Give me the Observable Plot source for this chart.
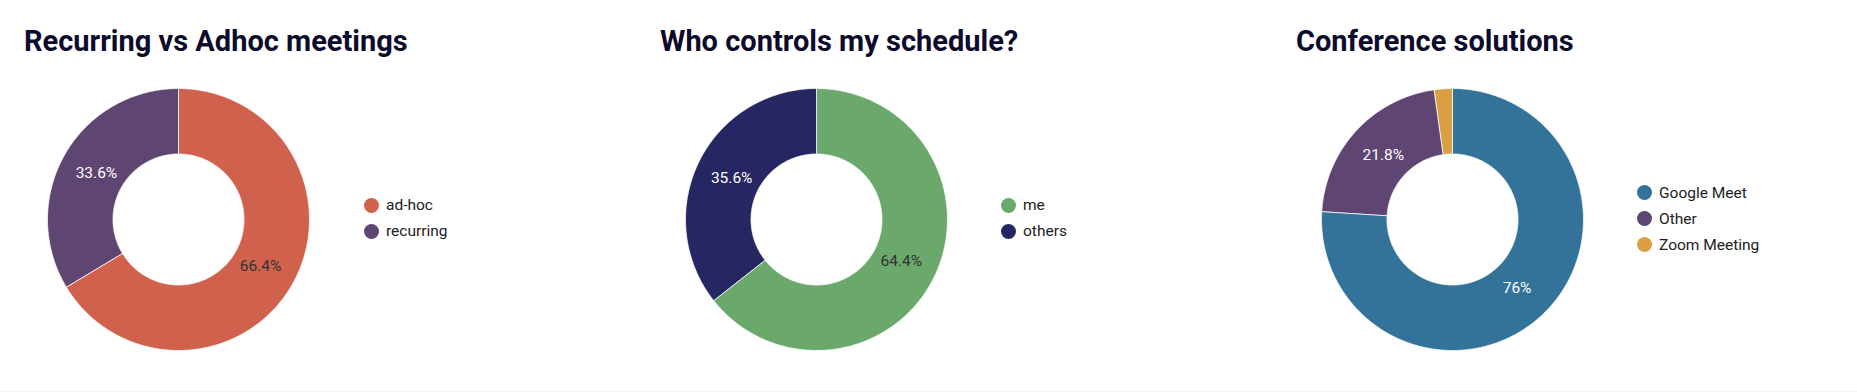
<!DOCTYPE html>
<html>
<head>
<meta charset="utf-8">
<script src="https://cdn.jsdelivr.net/npm/d3@7"></script>
<script src="https://cdn.jsdelivr.net/npm/@observablehq/plot@0.6"></script>
<style>
  html, body { margin: 0; padding: 0; background: #fff; }
  #page { position: relative; width: 1857px; height: 391px; border-bottom: 1px solid #f0f0f0; overflow: hidden; font-family: Roboto, "Noto Sans", sans-serif; }
  .title { position: absolute; font-size: 29px; font-weight: 700; color: #0c0b2c; line-height: 29px; white-space: nowrap; }
  .chart { position: absolute; }
  .legend { position: absolute; font-size: 15.5px; color: #222; }
  .item { position: absolute; display: flex; align-items: center; white-space: nowrap; height: 20px; }
  .sw { width: 15px; height: 15px; border-radius: 50%; margin-right: 7px; flex: none; }
</style>
</head>
<body>
<div id="page"></div>
<script>
// ---- data ----
const titles = ["Recurring vs Adhoc meetings", "Who controls my schedule?", "Conference solutions"];

const meetingTypes = ["ad-hoc", "recurring"];
const meetingShares = [66.4, 33.6];
const meetingColors = ["#cf614d", "#5f4572"];
const meetingLabelInk = ["#333333", "#ffffff"];

const controlTypes = ["me", "others"];
const controlShares = [64.4, 35.6];
const controlColors = ["#6aa86b", "#262762"];
const controlLabelInk = ["#333333", "#ffffff"];

const confTypes = ["Google Meet", "Other", "Zoom Meeting"];
const confShares = [76, 21.8, 2.2];
const confLabels = ["76%", "21.8%", ""];
const confColors = ["#337399", "#5f4572", "#d99f42"];
const confLabelInk = ["#ffffff", "#ffffff", "#ffffff"];

// ---- layout (pixels on page) ----
const layouts = [
  {titleX: 24, cx: 178, cy: 219, legX: 364, legY: 205},
  {titleX: 660, cx: 816, cy: 219, legX: 1001, legY: 205},
  {titleX: 1296, cx: 1452, cy: 219, legX: 1637, legY: 192.5}
];

const charts = [
  {cats: meetingTypes, vals: meetingShares, colors: meetingColors, ink: meetingLabelInk, labels: meetingShares.map(v => v + "%")},
  {cats: controlTypes, vals: controlShares, colors: controlColors, ink: controlLabelInk, labels: controlShares.map(v => v + "%")},
  {cats: confTypes, vals: confShares, colors: confColors, ink: confLabelInk, labels: confLabels}
];

const R = 1, r = 0.5;       // outer / inner radius in data units
const PX = 131;            // outer radius in pixels
const HALF = 135;          // half size of svg

function donutGeometry(cats, vals) {
  const total = d3.sum(vals);
  let acc = 0;
  const polys = [], cents = [];
  cats.forEach((c, i) => {
    const a0 = acc / total * 2 * Math.PI;
    acc += vals[i];
    const a1 = acc / total * 2 * Math.PI;
    const n = Math.max(2, Math.ceil((a1 - a0) / (Math.PI / 360)));
    const pts = [];
    for (let k = 0; k <= n; k++) {
      const a = a0 + (a1 - a0) * k / n;
      pts.push({key: c, x: R * Math.sin(a), y: R * Math.cos(a)});
    }
    for (let k = n; k >= 0; k--) {
      const a = a0 + (a1 - a0) * k / n;
      pts.push({key: c, x: r * Math.sin(a), y: r * Math.cos(a)});
    }
    polys.push(...pts);
    const am = (a0 + a1) / 2, rm = 0.72;
    cents.push({key: c, i, x: rm * Math.sin(am), y: rm * Math.cos(am)});
  });
  return {polys, cents};
}

const page = document.getElementById("page");

charts.forEach((ch, idx) => {
  const L = layouts[idx];
  const t = document.createElement("div");
  t.className = "title";
  t.style.left = L.titleX + "px";
  t.style.top = "27px";
  t.textContent = titles[idx];
  page.appendChild(t);

  const {polys, cents} = donutGeometry(ch.cats, ch.vals);
  const lab = cents.map(c => ({...c, label: ch.labels[c.i], ink: ch.ink[c.i]}));
  const dom = HALF / PX;
  const svg = Plot.plot({
    width: 2 * HALF, height: 2 * HALF,
    margin: 0,
    x: {domain: [-dom, dom], axis: null},
    y: {domain: [-dom, dom], axis: null},
    color: {domain: ch.cats, range: ch.colors},
    style: {background: "transparent", fontFamily: "Roboto, sans-serif"},
    marks: [
      Plot.line(polys, {x: "x", y: "y", z: "key", fill: "key", stroke: "#ffffff", strokeWidth: 0.8, curve: "linear-closed"}),
      Plot.text(lab.filter(d => d.ink === "#ffffff"), {x: "x", y: "y", text: "label", fill: "#ffffff", fontSize: 15.5}),
      Plot.text(lab.filter(d => d.ink !== "#ffffff"), {x: "x", y: "y", text: "label", fill: "#333333", fontSize: 15.5})
    ]
  });
  const wrap = document.createElement("div");
  wrap.className = "chart";
  wrap.style.left = (L.cx - HALF) + "px";
  wrap.style.top = (L.cy - HALF) + "px";
  wrap.appendChild(svg);
  page.appendChild(wrap);

  const leg = document.createElement("div");
  leg.className = "legend";
  leg.style.left = L.legX + "px";
  leg.style.top = "0px";
  ch.cats.forEach((c, i) => {
    const it = document.createElement("div");
    it.className = "item";
    it.style.top = (L.legY + i * 26 - 10) + "px";
    const sw = document.createElement("span");
    sw.className = "sw";
    sw.style.background = ch.colors[i];
    it.appendChild(sw);
    const tx = document.createElement("span");
    tx.textContent = c;
    it.appendChild(tx);
    leg.appendChild(it);
  });
  page.appendChild(leg);
});
</script>
</body>
</html>
